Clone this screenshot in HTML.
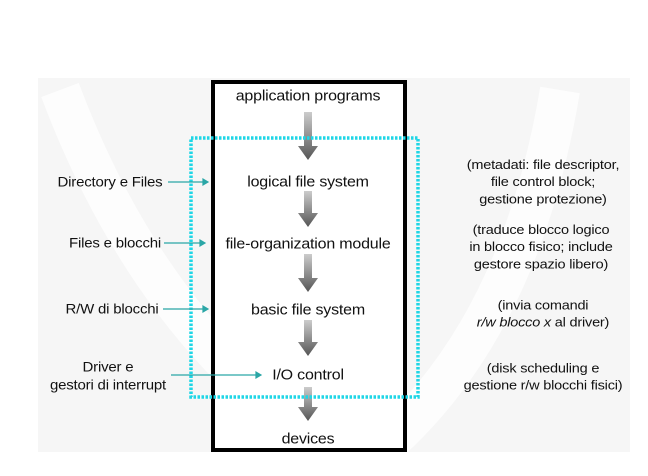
<!DOCTYPE html>
<html><head><style>
body{margin:0;width:648px;height:476px;background:#fff;position:relative;overflow:hidden;font-family:"Liberation Sans",sans-serif;}
.t{position:absolute;white-space:nowrap;font-size:16px;color:#111;transform:translate(-50%,-50%) scaleY(0.9);letter-spacing:-0.2px;}
.s{font-size:15px;text-align:center;line-height:20px;}
.r{font-size:14.5px;text-align:center;line-height:19px;}
</style></head><body>
<svg width="648" height="476" style="position:absolute;left:0;top:0">
<defs>
<linearGradient id="g" x1="0" x2="0" y1="0" y2="1"><stop offset="0" stop-color="#ccc"/><stop offset="1" stop-color="#555"/></linearGradient>
</defs>
<rect x="38" y="78" width="592" height="374" fill="#f6f6f6"/>
<path d="M60 90 Q150 330 330 450" stroke="#fff" stroke-width="40" fill="none" opacity="0.8"/>
<path d="M560 90 Q520 330 380 450" stroke="#fff" stroke-width="40" fill="none" opacity="0.8"/>
<rect x="213" y="82" width="192" height="368" fill="#fff" stroke="#000" stroke-width="4"/>
<g fill="url(#g)">
<path d="M304 112h8v34h6l-10 14-10-14h6z"/>
<path d="M304 191h8v22h6l-10 14-10-14h6z"/>
<path d="M304 254h8v24h6l-10 14-10-14h6z"/>
<path d="M304 320h8v22h6l-10 14-10-14h6z"/>
<path d="M304 387h8v20h6l-10 14-10-14h6z"/>
</g>
<rect x="191" y="138" width="227" height="259" fill="none" stroke="#1fd6e6" stroke-width="3.5" stroke-dasharray="2.5 1.5"/>
<g stroke="#2aa6a6" stroke-width="1.2" fill="#2aa6a6">
<line x1="168" y1="182" x2="204" y2="182"/><path d="M208 182l-5-3v6z"/>
<line x1="164" y1="243" x2="200" y2="243"/><path d="M205 243l-5-3v6z"/>
<line x1="163" y1="309" x2="204" y2="309"/><path d="M208 309l-5-3v6z"/>
<line x1="171" y1="375" x2="256" y2="375"/><path d="M261 375l-5-3v6z"/>
</g>
</svg>
<div class="t" style="left:308px;top:97px">application programs</div>
<div class="t" style="left:308px;top:183px">logical file system</div>
<div class="t" style="left:308px;top:245px">file-organization module</div>
<div class="t" style="left:308px;top:311px">basic file system</div>
<div class="t" style="left:308px;top:376px">I/O control</div>
<div class="t" style="left:308px;top:440px">devices</div>
<div class="t s" style="left:110px;top:183px">Directory e Files</div>
<div class="t s" style="left:115px;top:244px">Files e blocchi</div>
<div class="t s" style="left:112px;top:310px">R/W di blocchi</div>
<div class="t s" style="left:108px;top:377px">Driver e<br>gestori di interrupt</div>
<div class="t r" style="left:543px;top:183px">(metadati: file descriptor,<br>file control block;<br>gestione protezione)</div>
<div class="t r" style="left:541px;top:248px">(traduce blocco logico<br>in blocco fisico; include<br>gestore spazio libero)</div>
<div class="t r" style="left:543px;top:315px">(invia comandi<br><i>r/w blocco x</i> al driver)</div>
<div class="t r" style="left:543px;top:378px">(disk scheduling e<br>gestione r/w blocchi fisici)</div>
</body></html>
